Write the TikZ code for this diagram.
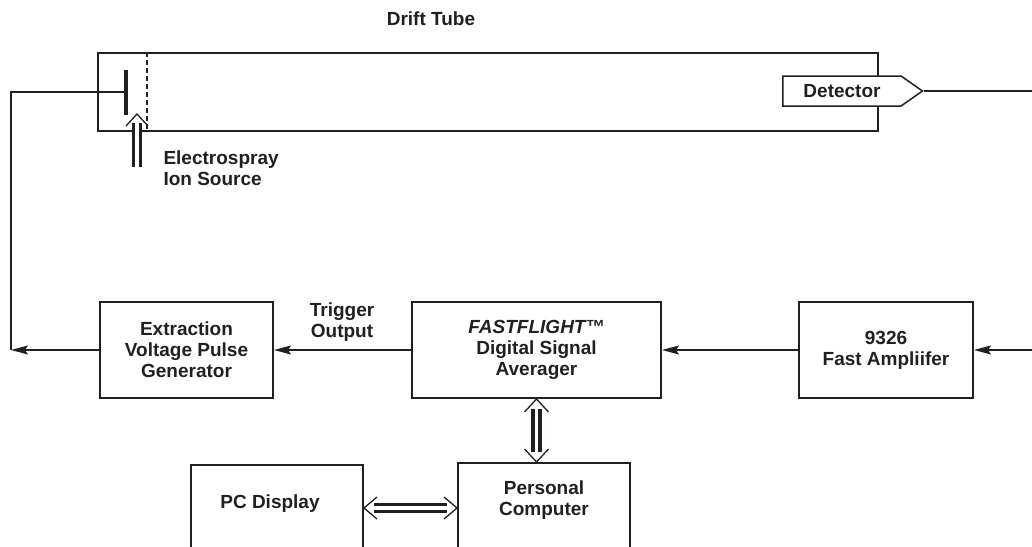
\documentclass[tikz,border=0pt]{standalone}
\usepackage{fontspec}
\setmainfont{Liberation Sans}
\usetikzlibrary{arrows.meta,calc,shapes.symbols}
\definecolor{ink}{RGB}{35,31,32}

\begin{document}
\begin{tikzpicture}[x=1pt, y=-1pt, font=\bfseries\fontsize{19}{21}\selectfont, color=ink,
    box/.style={draw, line width=2pt, align=center, inner sep=0pt},
    wire/.style={line width=1.5pt},
    sig/.style={wire, -{Stealth[length=17pt,width=9pt,inset=3pt]}},
    dbl/.style={double, double distance=3.5pt, line width=3.5pt},
    chev/.style={line width=1.3pt}]
    \useasboundingbox (0,0) rectangle (1032,546);
    \clip (0,0) rectangle (1032,546);

    % drift tube
    \node[box, minimum width=780, minimum height=78] (tube) at (488,92) {};
    \node (dtlbl) at (431,19) {Drift Tube};
    \draw[wire, dash pattern=on 5pt off 3pt] ($(tube.north west)+(50,0)$) -- ($(tube.south west)+(50,0)$);
    \node[fill, minimum width=3.5, minimum height=45, inner sep=0pt] (plate) at (126,92) {};
    \node[signal, signal to=east, signal pointer angle=70, draw, line width=1.5pt, fill=white,
          minimum height=30, inner xsep=20.5pt, inner ysep=0pt] (det) at (842,91) {Detector};

    % ion source
    \coordinate (esi) at (137,167);
    \coordinate (esitip) at (137,114);
    \draw[dbl] (esi) -- ($(esitip)+(0,9)$);
    \draw[chev] ($(esitip)+(-11,12)$) -- (esitip) -- ++(11,12);
    \node[align=left, anchor=west] (esilbl) at (160,168) {Electrospray\\Ion Source};

    % electronics
    \node[box, minimum width=173, minimum height=96] (egen) at (186.5,350) {Extraction\\Voltage Pulse\\Generator};
    \node[box, minimum width=249, minimum height=96] (ffa) at (536.5,350) {\textit{FASTFLIGHT™}\\Digital Signal\\Averager};
    \node[box, minimum width=174, minimum height=96] (amp) at (886,350) {9326\\Fast Ampliifer};
    \node[align=center] (trig) at (342,322) {Trigger\\Output};

    \node[box, minimum width=172, minimum height=120, anchor=north] (pc) at (544,462) {};
    \node[align=center] (pclbl) at (544,500) {Personal\\Computer};
    \node[box, minimum width=172, minimum height=120, anchor=north] (disp) at (277,464) {};
    \node (displbl) at (270,504) {PC Display};

    % signal wires
    \coordinate (lc) at ($(egen.west)+(-88,0)$);
    \draw[wire] (plate.west) -| (lc);
    \draw[sig] (egen.west) -- (lc);
    \draw[sig] (ffa.west) -- (egen.east);
    \draw[sig] (amp.west) -- (ffa.east);
    \draw[sig] (det.east) -- ++(140,0) |- (amp.east);

    % data links
    \coordinate (ffab) at (ffa.south);
    \coordinate (pct) at (ffa.south |- pc.north);
    \draw[dbl] ($(ffab)+(0,10)$) -- ($(pct)+(0,-10)$);
    \draw[chev] ($(ffab)+(-12,13)$) -- (ffab) -- ++(12,13);
    \draw[chev] ($(pct)+(-12,-13)$) -- (pct) -- ++(12,-13);
    \coordinate (dispr) at ($(disp.north east)+(0,44)$);
    \coordinate (pcl) at (pc.west |- dispr);
    \draw[dbl] ($(dispr)+(10,0)$) -- ($(pcl)+(-10,0)$);
    \draw[chev] ($(dispr)+(13,-11)$) -- (dispr) -- ++(13,11);
    \draw[chev] ($(pcl)+(-13,-11)$) -- (pcl) -- ++(-13,11);
\end{tikzpicture}
\end{document}
